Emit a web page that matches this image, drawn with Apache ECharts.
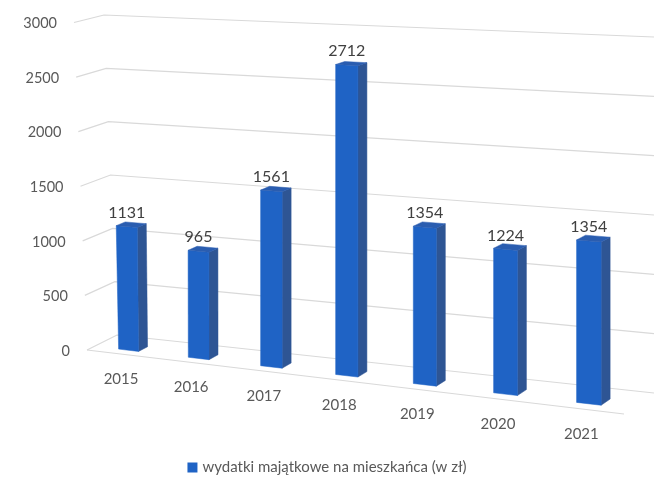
<!DOCTYPE html>
<html>
<head>
<meta charset="utf-8">
<script src="https://cdn.jsdelivr.net/npm/echarts@6/dist/echarts.min.js"></script>
<style>
html,body{margin:0;padding:0;background:#fff;}
#chart{width:654px;height:485px;}
</style>
</head>
<body>
<div id="chart"></div>
<script>
const years = ['2015', '2016', '2017', '2018', '2019', '2020', '2021'];
const values = [1131, 965, 1561, 2712, 1354, 1224, 1354];
const yTicks = [0, 500, 1000, 1500, 2000, 2500, 3000];
const seriesName = 'wydatki majątkowe na mieszkańca (w zł)';

const FONT = 'Lato, "Open Sans", sans-serif';
const FRONT = '#1f63c5', SIDE = '#2e5594', TOP = '#2a5db0';
const GRID_COLOR = '#d9d9d9';
// perspective parameters (pseudo-3D look)
const CURVE = 0.121, DEPTH_X = -30, FLOOR_DROP = 58, RIGHT_STRETCH = 1.1125;
const BAR_FRONT = 0.75, BAR_BACK = 0.45, BAR_HALF = 0.145;

function makeProj(cs) {
  const x0 = cs.x, xw = cs.width, yb0 = cs.y + cs.height, yh0 = cs.height;
  const yb1 = yb0 + FLOOR_DROP, yh1 = yh0 * RIGHT_STRETCH;
  return function (u, v, d) {
    const g = u * (1 - CURVE) + CURVE * u * u;
    const x = x0 + xw * g + DEPTH_X * d - 13 * v * Math.pow(1 - u, 14);
    const yL = yb0 - yh0 * v, yR = yb1 - yh1 * v;
    const y = yL + (yR - yL) * g + (15 + 6 * u) * (1 - 0.5 * v) * d;
    return [x, y];
  };
}
function norm(cs, pt) {
  return [(pt[0] - cs.x) / cs.width, (cs.y + cs.height - pt[1]) / cs.height];
}

const chart = echarts.init(document.getElementById('chart'));
chart.setOption({
  animation: false,
  backgroundColor: '#fff',
  grid: { left: 117, top: 15, width: 539, height: 320 },
  xAxis: { type: 'category', data: years, show: false },
  yAxis: { type: 'value', min: 0, max: 3000, interval: 500, show: false },
  legend: {
    data: [seriesName],
    bottom: 5,
    left: 'center',
    icon: 'rect',
    itemWidth: 10,
    itemHeight: 10,
    itemGap: 5,
    textStyle: { fontSize: 15, color: '#595959', fontFamily: FONT }
  },
  series: [
    {
      type: 'custom',
      name: 'grid',
      silent: true,
      data: yTicks.map(t => [0, t]),
      renderItem: function (params, api) {
        const cs = params.coordSys;
        const P = makeProj(cs);
        const v = norm(cs, api.coord([0, api.value(1)]))[1];
        const children = [
          {
            type: 'polyline',
            shape: { points: [P(0, v, 1), P(0, v, 0), P(1, v, 0)] },
            style: { stroke: GRID_COLOR, lineWidth: 1.2, fill: null }
          }
        ];
        const lp = P(0, v, 1);
        children.push({
          type: 'text',
          style: {
            text: String(api.value(1)),
            x: lp[0] - 17, y: lp[1] + 1,
            align: 'right', verticalAlign: 'middle',
            fill: '#595959', fontSize: 14.5, fontFamily: FONT
          }
        });
        if (api.value(1) === 0) {
          children.push({
            type: 'polyline',
            shape: { points: [P(0, 0, 1), P(1, 0, 1)] },
            style: { stroke: GRID_COLOR, lineWidth: 1.2, fill: null }
          });
        }
        return { type: 'group', children: children };
      }
    },
    {
      type: 'custom',
      name: seriesName,
      itemStyle: { color: FRONT },
      data: values.map((v, i) => [i, v]),
      renderItem: function (params, api) {
        const cs = params.coordSys;
        const P = makeProj(cs);
        const idx = api.value(0), val = api.value(1);
        const nv = norm(cs, api.coord([idx, val]));
        const uc = nv[0], v = nv[1];
        const bw = api.size([1, 0])[0] / cs.width;
        const ul = uc - BAR_HALF * bw, ur = uc + BAR_HALF * bw;
        const df = BAR_FRONT, db = BAR_BACK;
        const front = [P(ul, 0, df), P(ur, 0, df), P(ur, v, df), P(ul, v, df)];
        const side = [P(ur, 0, df), P(ur, 0, db), P(ur, v, db), P(ur, v, df)];
        const top = [P(ul, v, df), P(ur, v, df), P(ur, v, db), P(ul, v, db)];
        const ft = P(uc, v, df);
        const cl = P(uc, 0, 1);
        return {
          type: 'group',
          children: [
            { type: 'polygon', shape: { points: side }, style: { fill: SIDE, stroke: SIDE, lineWidth: 0.5 } },
            { type: 'polygon', shape: { points: front }, style: { fill: FRONT, stroke: FRONT, lineWidth: 0.5 } },
            { type: 'polygon', shape: { points: top }, style: { fill: TOP, stroke: TOP, lineWidth: 0.5 } },
            {
              type: 'text',
              style: {
                text: String(val), x: ft[0], y: ft[1] - 6,
                align: 'center', verticalAlign: 'bottom',
                fill: '#404040', fontSize: 16, fontFamily: FONT
              }
            },
            {
              type: 'text',
              style: {
                text: years[idx], x: cl[0], y: cl[1] + 25,
                align: 'center', verticalAlign: 'middle',
                fill: '#595959', fontSize: 15, fontFamily: FONT
              }
            }
          ]
        };
      }
    }
  ]
});
</script>
</body>
</html>
